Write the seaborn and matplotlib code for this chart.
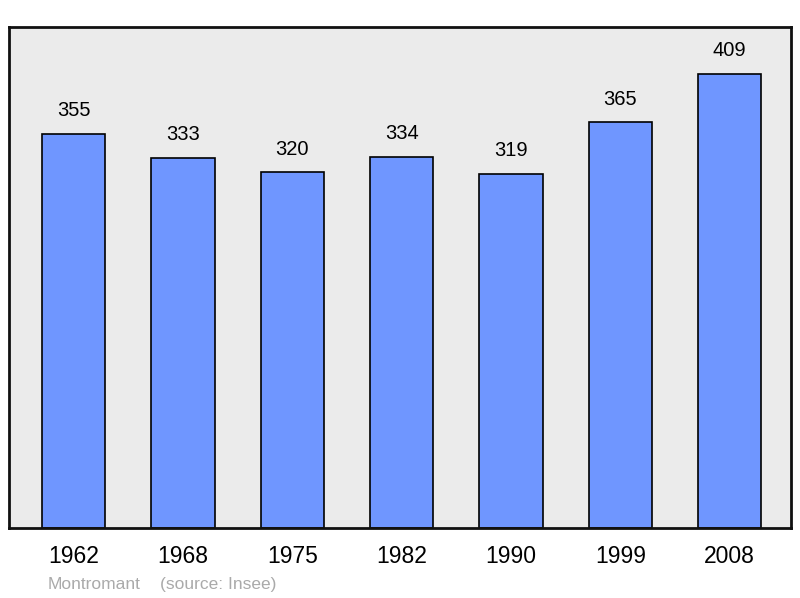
import pandas as pd
import matplotlib
import matplotlib.pyplot as plt
import seaborn as sns

matplotlib.use("Agg")

years = ["1962", "1968", "1975", "1982", "1990", "1999", "2008"]
population = [355, 333, 320, 334, 319, 365, 409]
commune = "Montromant"
source = "(source: Insee)"

df = pd.DataFrame({"year": years, "pop": population})

sns.set_style("white")
plt.rcParams["font.family"] = ["Liberation Sans", "DejaVu Sans"]

fig = plt.figure(figsize=(8, 5.98), dpi=100)
ax = fig.add_axes([0.01125, 0.117, 0.9775, 0.838])
ax.set_facecolor("#ebebeb")

sns.barplot(data=df, x="year", y="pop", ax=ax, color="#6f96ff", saturation=1,
            width=0.58, edgecolor="black", linewidth=1.2)

for i, v in enumerate(population):
    ax.annotate(str(v), (i, v), xytext=(0, 10), textcoords="offset points",
                ha="center", va="bottom", fontsize=14.5, color="black")

ax.set_xlim(-0.59, 6.56)
ax.set_ylim(0, 451)
ax.set_yticks([])
ax.set_xlabel("")
ax.set_ylabel("")
ax.tick_params(axis="x", length=0, labelsize=16.5, pad=12, labelcolor="black")
for s in ax.spines.values():
    s.set_visible(True)
    s.set_color("#111111")
    s.set_linewidth(2)

fig.text(48 / 800, 1 - 589 / 598, commune, color="#aaaaaa", fontsize=12.5, va="baseline")
fig.text(160 / 800, 1 - 589 / 598, source, color="#aaaaaa", fontsize=12.5, va="baseline")

fig.savefig("out.png", dpi=100)
